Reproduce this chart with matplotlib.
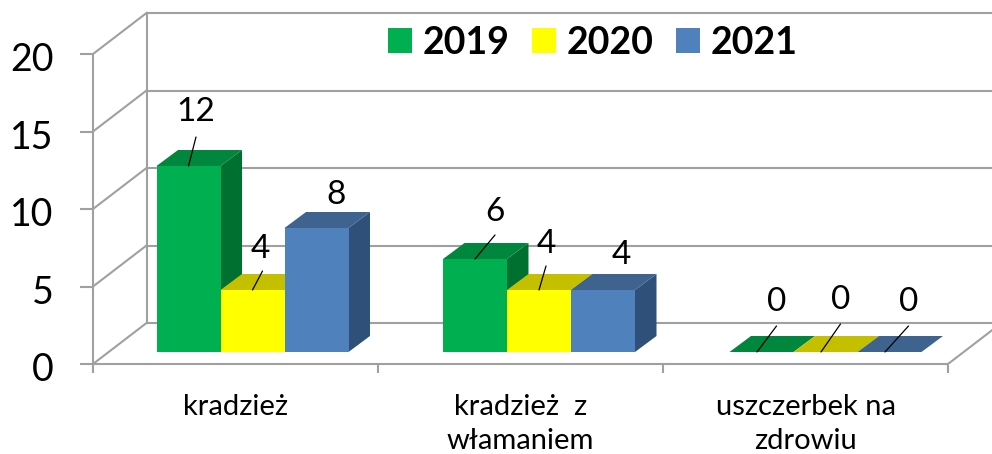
import matplotlib
matplotlib.use("Agg")
import matplotlib.pyplot as plt
from matplotlib.patches import Polygon, Patch
from matplotlib.transforms import ScaledTranslation

categories = ["kradzież", "kradzież  z\nwłamaniem", "uszczerbek na\nzdrowiu"]
years = ["2019", "2020", "2021"]
v2019 = [12, 6, 0]
v2020 = [4, 4, 0]
v2021 = [8, 4, 0]
yticks = [0, 5, 10, 15, 20]

front_colors = ["#00B050", "#FFFF00", "#4F81BD"]
top_colors = ["#00863D", "#C4C000", "#3E638F"]
side_colors = ["#007030", "#A3A000", "#2F5078"]

# hand placed data labels, pixels from the middle of the bar's top edge
label_offsets = [[(7.5, 54), (8, 41), (20, 33)],
                 [(20, 47), (7, 46), (18, 35)],
                 [(15, 50), (15, 52), (19, 50)]]
leader_ends = [[(7.5, 29), (10, 19), None],
               [(20, 24), (7, 24), None],
               [(19.5, 26), (19.5, 28), (23.5, 26)]]

GRID = "#A0A0A0"
LW = 1.5
PX_X = 1 / 285        # one pixel in category units
PX_Y = 1 / 15.5       # one pixel in value units

fig = plt.figure(figsize=(9.92, 4.54), dpi=100)
plt.rcParams['font.family'] = ['Lato', 'DejaVu Sans']
ax = fig.add_axes([93 / 992, 90 / 454, 899 / 992, 364 / 454])
ax.set_xlim(-0.5, -0.5 + 899 * PX_X)
ax.set_ylim(0, 364 * PX_Y)

# walls
wall_dx = 53.5 * PX_X
wall_dy = 41 * PX_Y
for t in yticks:
    ax.plot([-0.5, -0.5 + wall_dx], [t, t + wall_dy], color=GRID, lw=LW, zorder=1)
    ax.plot([-0.5 + wall_dx, 5], [t + wall_dy, t + wall_dy], color=GRID, lw=LW, zorder=1)
ax.plot([-0.5 + wall_dx] * 2, [wall_dy, 20 + wall_dy], color=GRID, lw=LW, zorder=1)
ax.plot([2.5, 2.5 + wall_dx], [0, wall_dy], color=GRID, lw=LW, zorder=1)

# bars
width = 64 * PX_X
step = 286.5 * PX_X
first = (252.5 - 93) * PX_X - 0.5
lift = 12 * PX_Y
depth_x = 21.5 * PX_X
depth_y = 16 * PX_Y

series = [v2019, v2020, v2021]
z = 3
for g in range(len(categories)):
    for s in range(len(series)):
        val = series[s][g]
        left = first + g * step + (s - 1.5) * width
        top = lift + val
        ax.add_patch(Polygon([(left + width, lift), (left + width + depth_x, lift + depth_y),
                              (left + width + depth_x, top + depth_y), (left + width, top)],
                             facecolor=side_colors[s], edgecolor="none", zorder=z))
        ax.add_patch(Polygon([(left, top), (left + width, top),
                              (left + width + depth_x, top + depth_y), (left + depth_x, top + depth_y)],
                             facecolor=top_colors[s], edgecolor="none", zorder=z))
        ax.bar(left, val, width, bottom=lift, align="edge", color=front_colors[s], zorder=z)
        centre = left + width / 2
        ax.annotate(str(val), (centre, top), xytext=label_offsets[g][s], textcoords="offset pixels",
                    ha="center", va="center", fontsize=24, color="black", zorder=50)
        if leader_ends[g][s] is not None:
            # leaders of the empty bars start a bit left of the middle
            start = centre - 4.5 * PX_X if val == 0 else centre
            ax.annotate("", (start, top), xytext=leader_ends[g][s], textcoords="offset pixels",
                        arrowprops=dict(arrowstyle="-", color="black", lw=0.9, shrinkA=0, shrinkB=0),
                        zorder=50)
        z += 1

# axes
for side in ["top", "right"]:
    ax.spines[side].set_visible(False)
for side in ["left", "bottom"]:
    ax.spines[side].set_color(GRID)
    ax.spines[side].set_linewidth(LW)
ax.spines["left"].set_bounds(0, 20)
ax.spines["bottom"].set_bounds(-0.5, 2.5)
ax.patch.set_alpha(0)

ax.set_yticks(yticks)
ax.tick_params(axis="y", length=9.4, width=LW, color=GRID, pad=19, labelsize=27)
shift_down = ScaledTranslation(0, -2 / 72, fig.dpi_scale_trans)
for lab in ax.get_yticklabels():
    lab.set_transform(lab.get_transform() + shift_down)

ax.set_xticks([-0.5, 0.5, 1.5, 2.5])
ax.set_xticklabels([])
ax.set_xticks([0, 1, 2], minor=True)
ax.set_xticklabels(categories, minor=True, linespacing=1.4)
ax.tick_params(axis="x", which="major", length=6.5, width=LW, color=GRID)
ax.tick_params(axis="x", which="minor", length=0, pad=21.5, labelsize=21)

handles = [Patch(facecolor=c, edgecolor="none") for c in front_colors]
ax.legend(handles, years, ncol=3, loc="center", bbox_to_anchor=(593 / 992, 1 - 43 / 454), bbox_transform=fig.transFigure,
          frameon=False, prop={"family": "Lato", "weight": "bold", "size": 27},
          handlelength=0.64, handleheight=0.64, handletextpad=0.29, columnspacing=0.59,
          borderpad=0, borderaxespad=0)

fig.savefig("out.png", dpi=100)
